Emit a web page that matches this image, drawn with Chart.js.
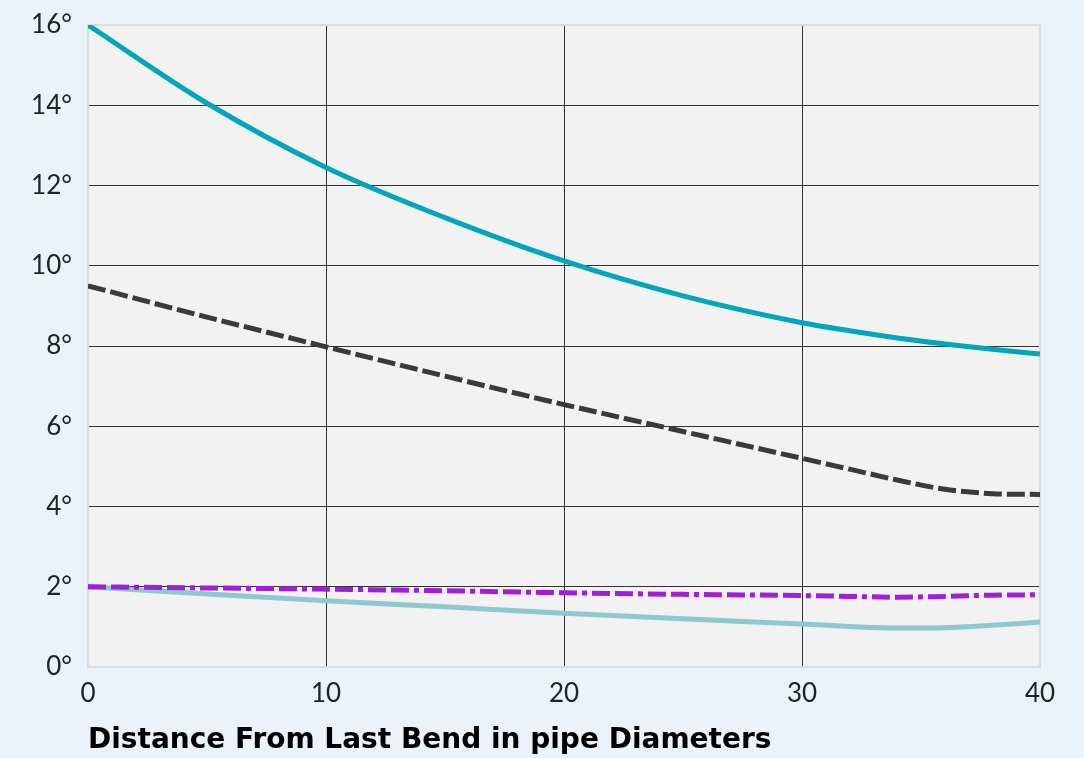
<!DOCTYPE html>
<html>
<head>
<meta charset="utf-8">
<script src="https://cdn.jsdelivr.net/npm/chart.js@4/dist/chart.umd.min.js"></script>
<style>
    html, body { margin: 0; padding: 0; background: #eaf3f9; }
    #wrap { width: 1084px; height: 758px; position: relative; }
</style>
</head>
<body>
<div id="wrap"><canvas id="grafico"></canvas></div>
<script>
// distancia em diametros de tubo
const distancias = [0, 5, 10, 15, 20, 25, 30, 32, 34, 36, 38, 40];

const serieAzul = [16, 14.05, 12.45, 11.2, 10.12, 9.25, 8.58, 8.38, 8.2, 8.05, 7.92, 7.8];
const serieTracejada = [9.5, 8.72, 7.98, 7.25, 6.54, 5.87, 5.2, 4.93, 4.66, 4.43, 4.32, 4.3];
const serieRoxa = [2.0, 1.97, 1.94, 1.9, 1.85, 1.81, 1.78, 1.76, 1.74, 1.76, 1.79, 1.8];
const serieClara = [2.0, 1.82, 1.65, 1.5, 1.34, 1.2, 1.07, 1.01, 0.97, 0.98, 1.04, 1.12];

const ticksX = [0, 10, 20, 30, 40];
const ticksY = [0, 2, 4, 6, 8, 10, 12, 14, 16];
const tituloX = 'Distance From Last Bend in pipe Diameters';

function pontos(valores) {
    return distancias.map((d, i) => ({ x: d, y: valores[i] }));
}

const fundoArea = {
    id: 'fundoArea',
    beforeDraw(chart) {
        const { ctx, chartArea: a } = chart;
        ctx.save();
        ctx.fillStyle = '#f2f2f2';
        ctx.fillRect(a.left, a.top, a.right - a.left, a.bottom - a.top);
        ctx.restore();
    },
    beforeDatasetsDraw(chart) {
        const { ctx, chartArea: a } = chart;
        ctx.save();
        ctx.strokeStyle = '#dcdcdc';
        ctx.lineWidth = 2;
        ctx.strokeRect(a.left, a.top, a.right - a.left, a.bottom - a.top);
        ctx.restore();
    }
};

const fonte = { family: 'Lato', size: 26 };

new Chart(document.getElementById('grafico'), {
    type: 'line',
    data: {
        datasets: [
            {
                data: pontos(serieRoxa),
                borderColor: '#a01ed8',
                borderWidth: 5,
                borderDash: [18, 5, 18, 5, 5, 5]
            },
            {
                data: pontos(serieAzul),
                borderColor: '#00a6bc',
                borderWidth: 5
            },
            {
                data: pontos(serieTracejada),
                borderColor: '#3a3a3a',
                borderWidth: 5,
                borderDash: [18, 5]
            },
            {
                data: pontos(serieClara),
                borderColor: '#8ec8d0',
                borderWidth: 5
            }
        ]
    },
    options: {
        responsive: true,
        maintainAspectRatio: false,
        animation: false,
        layout: { padding: { left: 0, right: 44, top: 0, bottom: 0 } },
        elements: {
            point: { radius: 0 },
            line: { cubicInterpolationMode: 'monotone', fill: false }
        },
        plugins: {
            legend: { display: false },
            tooltip: { enabled: false }
        },
        scales: {
            x: {
                type: 'linear',
                min: 0,
                max: 40,
                afterBuildTicks: scale => { scale.ticks = ticksX.map(v => ({ value: v })); },
                afterFit: scale => { scale.height = 91; },
                border: { display: false },
                grid: {
                    drawTicks: false,
                    lineWidth: 1,
                    color: c => (c.tick && (c.tick.value === 0 || c.tick.value === 40)) ? 'rgba(0,0,0,0)' : '#333333'
                },
                ticks: {
                    padding: 11,
                    color: '#222222',
                    font: fonte,
                    maxRotation: 0
                },
                title: {
                    display: true,
                    text: tituloX,
                    align: 'start',
                    color: '#000000',
                    font: { family: 'DejaVu Sans', size: 28, weight: 'bold' },
                    padding: { top: 0, bottom: 0 }
                }
            },
            y: {
                min: 0,
                max: 16,
                afterBuildTicks: scale => { scale.ticks = ticksY.map(v => ({ value: v })); },
                afterFit: scale => {
                    scale.width = 88;
                    scale.paddingTop = 25;
                },
                border: { display: false },
                grid: {
                    drawTicks: false,
                    lineWidth: 1,
                    color: c => (c.tick && (c.tick.value === 0 || c.tick.value === 16)) ? 'rgba(0,0,0,0)' : '#333333'
                },
                ticks: {
                    padding: 16,
                    color: '#222222',
                    font: fonte,
                    callback: v => v + '°'
                }
            }
        }
    },
    plugins: [fundoArea]
});
</script>
</body>
</html>
